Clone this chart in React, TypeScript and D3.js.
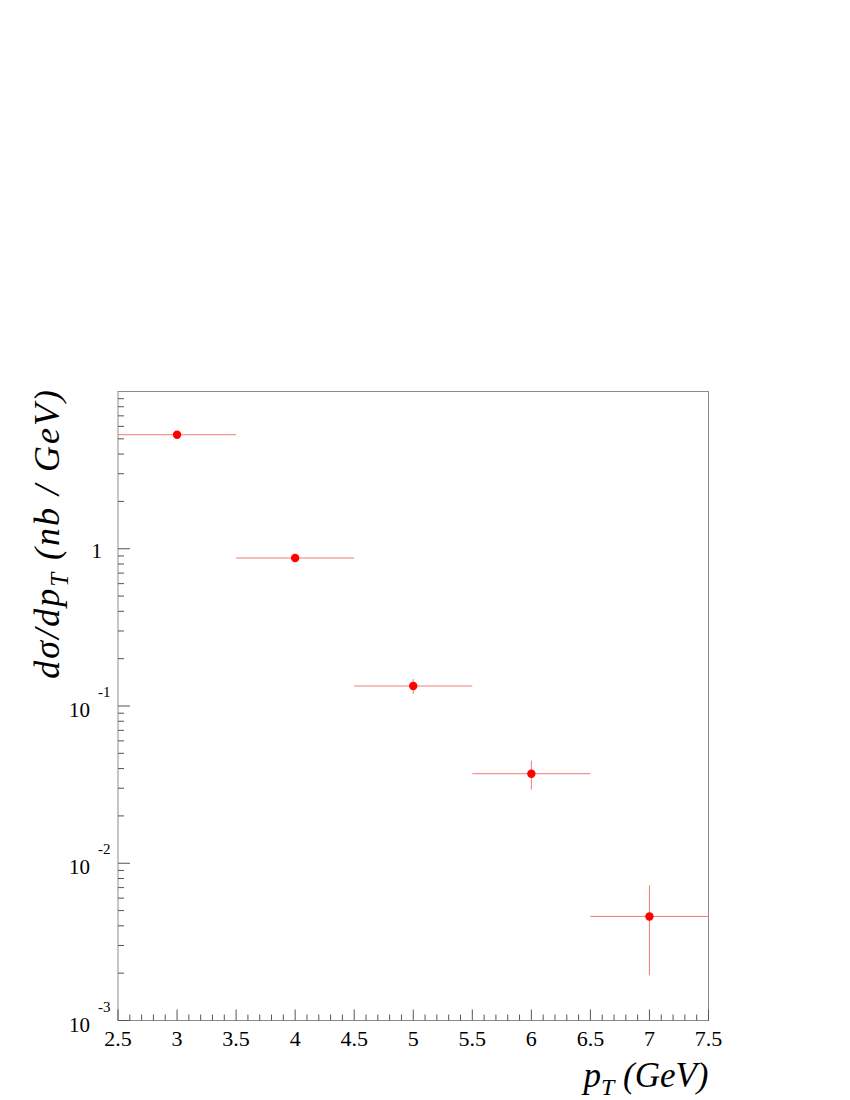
import React from "react";
import * as d3 from "d3";

// pT bin centres and half widths (GeV)
const ptCenters = [3, 4, 5, 6, 7];
const ptHalfWidth = [0.5, 0.5, 0.5, 0.5, 0.5];
// dsigma/dpT (nb/GeV) and error bar ends
const xsec = [5.31, 0.873, 0.134, 0.0371, 0.00459];
const xsecHigh = [5.31, 0.873, 0.1486, 0.0449, 0.00724];
const xsecLow = [5.31, 0.873, 0.119, 0.0294, 0.00194];

const xMajorTicks = [2.5, 3, 3.5, 4, 4.5, 5, 5.5, 6, 6.5, 7, 7.5];
const xTickLabels = ["2.5", "3", "3.5", "4", "4.5", "5", "5.5", "6", "6.5", "7", "7.5"];
const yDecades = [-3, -2, -1, 0];

const FRAME = { left: 118, right: 708.5, top: 391.5, bottom: 1020.5 };
const AXIS_COLOR = "#8c8c8c";
const TICK_COLOR = "#555";
const ERR_COLOR = "#f07a7a";
const FONT = "'Liberation Serif', 'Times New Roman', serif";

const App = () => {
  const x = d3.scaleLinear().domain([2.5, 7.5]).range([FRAME.left, FRAME.right]);
  const y = d3.scaleLog().domain([1e-3, 10]).range([FRAME.bottom, FRAME.top]);

  const xMinor = d3.range(25, 76).map((i) => i / 10).filter((v) => !xMajorTicks.some((m) => Math.abs(m - v) < 1e-9));
  const yMinor: number[] = [];
  yDecades.forEach((d) => {
    for (let k = 2; k <= 9; k++) yMinor.push(k * Math.pow(10, d));
  });

  return (
    <svg width={850} height={1100} style={{ position: "absolute", left: 0, top: 0, background: "#fff" }}>
      {/* frame */}
      <rect x={FRAME.left} y={FRAME.top} width={FRAME.right - FRAME.left} height={FRAME.bottom - FRAME.top}
        fill="none" stroke={AXIS_COLOR} strokeWidth={1} />

      {/* x ticks */}
      {xMajorTicks.map((v) => (
        <line key={"xM" + v} x1={x(v)} x2={x(v)} y1={FRAME.bottom} y2={FRAME.bottom - 11} stroke={TICK_COLOR} />
      ))}
      {xMinor.map((v) => (
        <line key={"xm" + v} x1={x(v)} x2={x(v)} y1={FRAME.bottom} y2={FRAME.bottom - 6} stroke={TICK_COLOR} />
      ))}
      {xMajorTicks.map((v, i) => (
        <text key={"xl" + v} x={x(v)} y={1046} textAnchor="middle" fontFamily={FONT} fontSize={22}>{xTickLabels[i]}</text>
      ))}

      {/* y ticks */}
      {yDecades.map((d) => (
        <line key={"yM" + d} x1={FRAME.left} x2={FRAME.left + 12} y1={y(Math.pow(10, d))} y2={y(Math.pow(10, d))} stroke={TICK_COLOR} />
      ))}
      {yMinor.map((v, i) => (
        <line key={"ym" + i} x1={FRAME.left} x2={FRAME.left + 6} y1={y(v)} y2={y(v)} stroke={TICK_COLOR} />
      ))}
      {yDecades.map((d) =>
        d === 0 ? (
          <text key={"yl" + d} x={102} y={y(1) + 9} textAnchor="end" fontFamily={FONT} fontSize={21}>1</text>
        ) : (
          <g key={"yl" + d} fontFamily={FONT}>
            <text x={90} y={y(Math.pow(10, d)) + 11} textAnchor="end" fontSize={21}>10</text>
            <text x={98} y={y(Math.pow(10, d)) - 9} textAnchor="start" fontSize={15}>{d}</text>
          </g>
        )
      )}

      {/* error bars */}
      {ptCenters.map((c, i) => (
        <g key={"e" + i} stroke={ERR_COLOR} strokeWidth={1}>
          <line x1={x(c - ptHalfWidth[i])} x2={x(c + ptHalfWidth[i])} y1={y(xsec[i])} y2={y(xsec[i])} />
          <line x1={x(c)} x2={x(c)} y1={y(xsecHigh[i])} y2={y(xsecLow[i])} />
        </g>
      ))}
      {ptCenters.map((c, i) => (
        <circle key={"p" + i} cx={x(c)} cy={y(xsec[i])} r={4.2} fill="#ff0000" />
      ))}

      {/* axis titles */}
      <text x={FRAME.right} y={1087} textAnchor="end" fontFamily={FONT} fontStyle="italic" fontSize={35}>
        p<tspan fontSize={24} dy={8}>T</tspan><tspan dy={-8}> (GeV)</tspan>
      </text>
      <text transform="translate(59,388) rotate(-90)" textAnchor="end" fontFamily={FONT}
        fontStyle="italic" fontSize={36} letterSpacing={2}>
        dσ/dp<tspan fontSize={25} dy={9}>T</tspan><tspan dy={-9}> (nb / GeV)</tspan>
      </text>
    </svg>
  );
};

export default App;
